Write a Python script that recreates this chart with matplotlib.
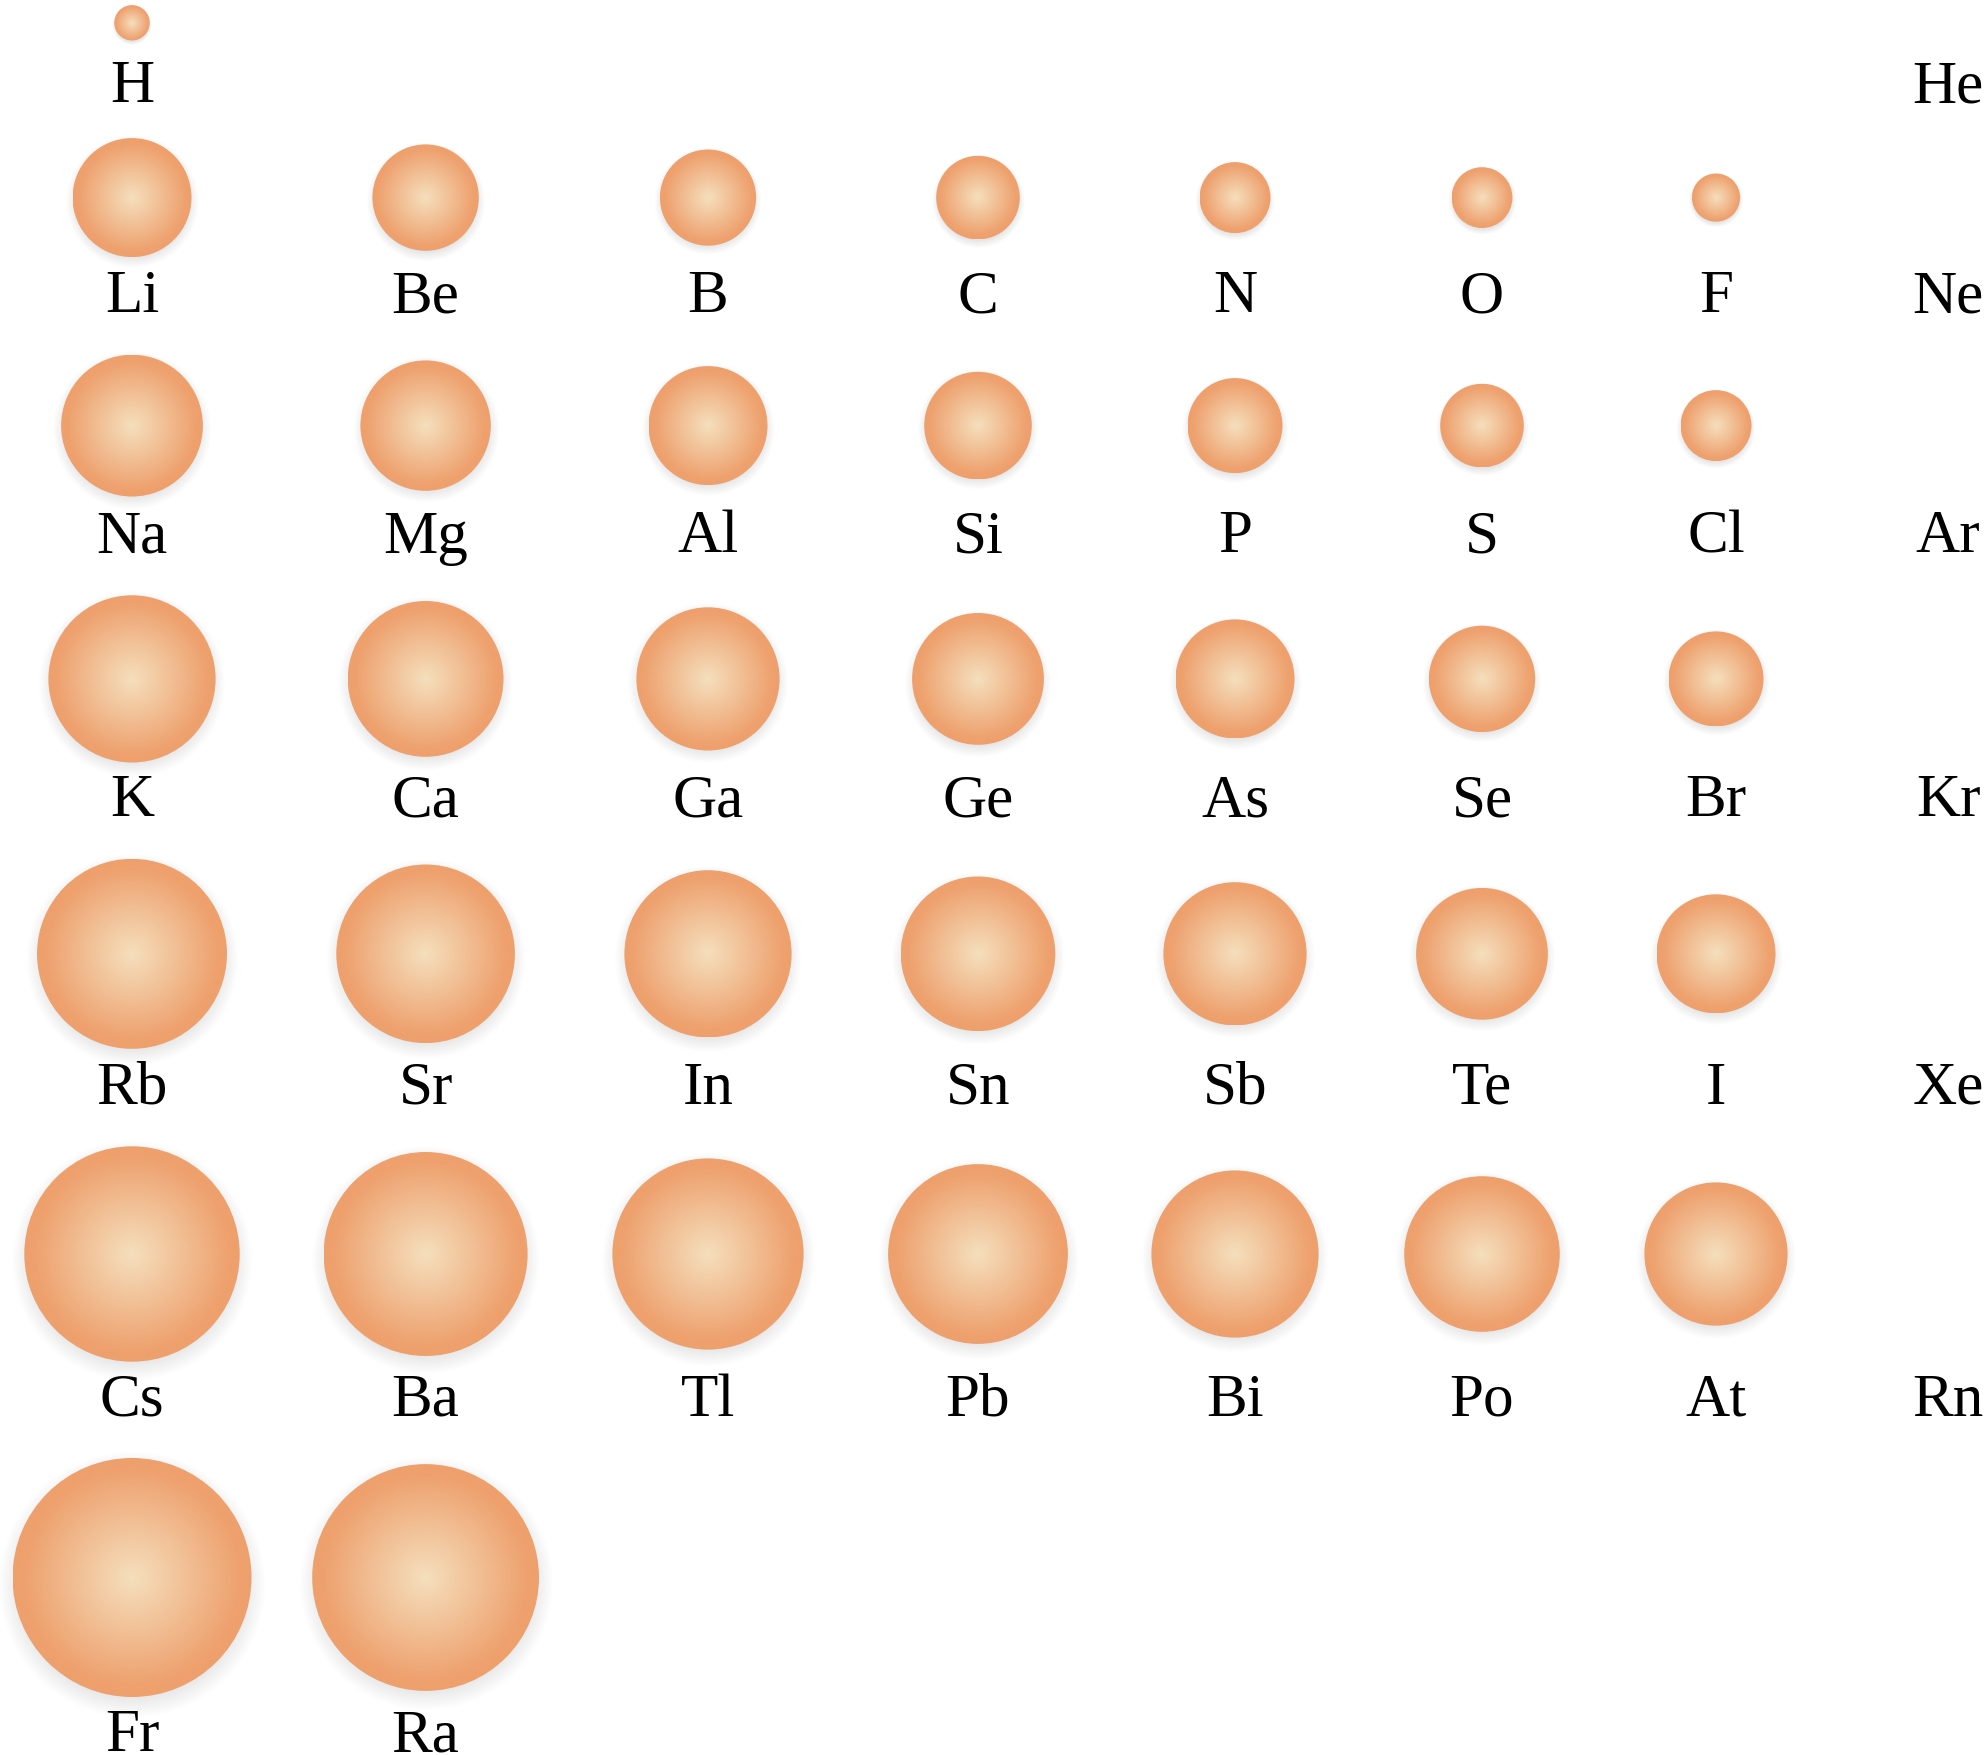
import numpy as np
import matplotlib
matplotlib.use("Agg")
from matplotlib import pyplot as plt
from matplotlib.patches import Circle

# element symbols per period (main groups 1-2, 13-18)
period1 = ['H', 'He']
period2 = ['Li', 'Be', 'B', 'C', 'N', 'O', 'F', 'Ne']
period3 = ['Na', 'Mg', 'Al', 'Si', 'P', 'S', 'Cl', 'Ar']
period4 = ['K', 'Ca', 'Ga', 'Ge', 'As', 'Se', 'Br', 'Kr']
period5 = ['Rb', 'Sr', 'In', 'Sn', 'Sb', 'Te', 'I', 'Xe']
period6 = ['Cs', 'Ba', 'Tl', 'Pb', 'Bi', 'Po', 'At', 'Rn']
period7 = ['Fr', 'Ra']

# drawn radius of each atom (None = no sphere drawn, label only)
radius1 = [17.7, None]
radius2 = [59.5, 53.2, 48.1, 41.8, 35.5, 30.4, 24.1, None]
radius3 = [70.9, 65.2, 59.5, 53.8, 47.5, 41.8, 35.5, None]
radius4 = [83.6, 77.9, 71.6, 65.9, 59.5, 53.2, 47.5, None]
radius5 = [95.0, 89.3, 83.6, 77.3, 71.6, 65.9, 59.5, None]
radius6 = [107.7, 102.0, 95.6, 89.9, 83.6, 77.8, 71.6, None]
radius7 = [119.5, 113.4]

# layout (pixels)
col_x = [132, 425.6, 708, 978, 1235, 1482, 1716, 1948]
row_y = [22.8, 197.6, 425.6, 678.9, 953.8, 1254, 1577.5]
label_base = [102, 312, 552.5, 816, 1103.5, 1416, 1751]

periods = [period1, period2, period3, period4, period5, period6, period7]
radii = [radius1, radius2, radius3, radius4, radius5, radius6, radius7]

W, H = 1986, 1755
fig = plt.figure(figsize=(W / 100, H / 100), dpi=100)
ax = fig.add_axes([0, 0, 1, 1])
ax.set_xlim(0, W)
ax.set_ylim(H, 0)
ax.axis('off')

# radial gradient image for the spheres
n = 400
g = np.linspace(-1, 1, n)
xx, yy = np.meshgrid(g, g)
d = np.sqrt(xx ** 2 + yy ** 2)
t = np.clip(d / 0.92, 0, 1)
c0 = np.array([245, 223, 189]) / 255
c1 = np.array([238, 160, 109]) / 255
grad = np.zeros((n, n, 4))
for k in range(3):
    grad[..., k] = c0[k] + (c1[k] - c0[k]) * t
grad[..., 3] = 1.0

# soft shadow image
s = 1.35
shadow = np.zeros((n, n, 4))
shadow[..., :3] = 0.35
ds = d * s
shadow[..., 3] = 0.16 * np.clip((1.12 - ds) / 0.2, 0, 1)


def col_index(period, j):
    # period 1: H in column 0, He in last column
    if period == 0 and j == 1:
        return 7
    return j


for i, (syms, rads) in enumerate(zip(periods, radii)):
    for j, (sym, r) in enumerate(zip(syms, rads)):
        x = col_x[col_index(i, j)]
        y = row_y[i]
        if r is not None:
            off = 2 + 0.04 * r
            ax.imshow(shadow, extent=[x - r * s, x + r * s, y + off + r * s, y + off - r * s],
                      interpolation='bilinear', zorder=1)
            im = ax.imshow(grad, extent=[x - r, x + r, y + r, y - r],
                           interpolation='bilinear', zorder=2)
            clip = Circle((x, y), r, transform=ax.transData)
            im.set_clip_path(clip)
        ax.text(x, label_base[i], sym, ha='center', va='baseline',
                fontsize=44, family='Liberation Serif', color='black', zorder=3)

ax.set_xlim(0, W)
ax.set_ylim(H, 0)
fig.savefig('out.png', dpi=100, facecolor='white')
